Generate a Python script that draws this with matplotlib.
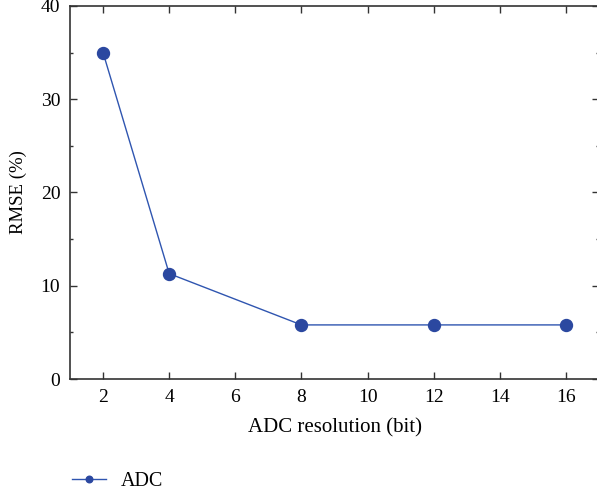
import matplotlib
matplotlib.use("Agg")
import matplotlib.pyplot as plt
from matplotlib.ticker import MultipleLocator

plt.rcParams['font.family'] = ['Liberation Serif', 'DejaVu Serif']

bits = [2, 4, 8, 12, 16]
rmse = [35.0, 11.3, 5.8, 5.8, 5.8]
series_label = "ADC"
xticks = [2, 4, 6, 8, 10, 12, 14, 16]
yticks = [0, 10, 20, 30, 40]

fig = plt.figure(figsize=(5.97, 4.96), dpi=100)
ax = fig.add_axes([70/597, 1-379/496, 529/597, 373/496])

color_line = '#2f55b0'
color_mark = '#2b48a0'
ax.plot(bits, rmse, '-', color=color_line, lw=1.0, marker='o', ms=8.6,
        markerfacecolor=color_mark, markeredgecolor=color_mark, label=series_label)

ax.set_xlim(1, 17)
ax.set_ylim(0, 40)
ax.set_xticks(xticks)
ax.set_yticks(yticks)
ax.yaxis.set_minor_locator(MultipleLocator(5))
ax.tick_params(which='both', direction='in', top=True, right=True, labelsize=14,
               color='#333333', width=1.0)
ax.tick_params(which='major', length=5)
ax.tick_params(which='minor', length=2.5)
ax.tick_params(axis='x', pad=7)
ax.tick_params(axis='y', pad=7)
for s in ax.spines.values():
    s.set_color('#333333')
    s.set_linewidth(1.2)

ax.set_xlabel('ADC resolution (bit)', fontsize=15, labelpad=9)
ax.set_ylabel('RMSE (%)', fontsize=13.5, labelpad=10)

h, l = ax.get_legend_handles_labels()
leg = fig.legend(h, l, loc='center left', bbox_to_anchor=(54/597, 1-481/496),
                 frameon=False, fontsize=14.5, handlelength=1.7, markerscale=0.55,
                 handletextpad=0.7)

fig.savefig('out.png', dpi=100)
